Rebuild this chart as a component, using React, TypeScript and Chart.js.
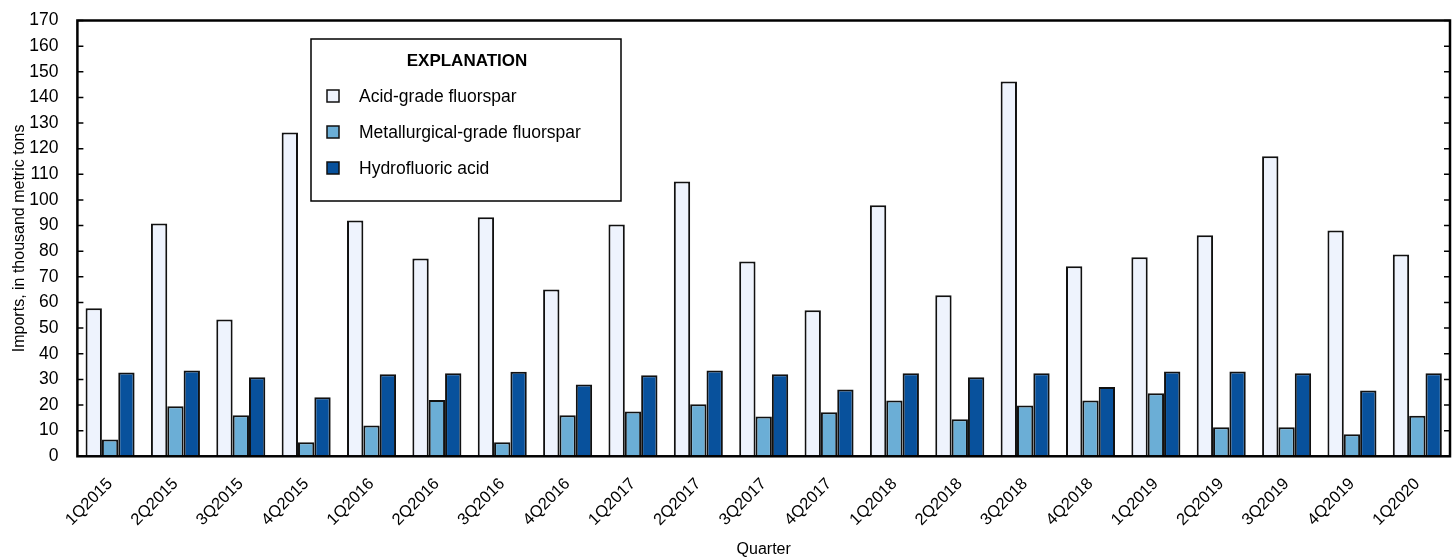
import React, { useEffect, useRef } from "react";
import { Chart, registerables } from "chart.js";

Chart.register(...registerables);

const categories = [
  "1Q2015", "2Q2015", "3Q2015", "4Q2015",
  "1Q2016", "2Q2016", "3Q2016", "4Q2016",
  "1Q2017", "2Q2017", "3Q2017", "4Q2017",
  "1Q2018", "2Q2018", "3Q2018", "4Q2018",
  "1Q2019", "2Q2019", "3Q2019", "4Q2019",
  "1Q2020",
];

const acidGrade = [57.7, 90.8, 53.4, 126.3, 92.0, 77.2, 93.2, 65.1, 90.4, 107.2, 76.0, 57.0, 97.9, 62.8, 146.2, 74.1, 77.6, 86.2, 117.0, 88.1, 78.7];
const metallurgicalGrade = [6.5, 19.5, 16.0, 5.5, 12.0, 22.0, 5.5, 16.0, 17.5, 20.3, 15.5, 17.2, 21.8, 14.4, 19.8, 21.8, 24.6, 11.3, 11.3, 8.6, 15.8];
const hydrofluoricAcid = [32.7, 33.5, 30.8, 23.0, 32.0, 32.4, 33.0, 28.0, 31.6, 33.5, 32.0, 26.1, 32.4, 30.8, 32.4, 27.0, 33.1, 33.1, 32.4, 25.7, 32.4];

const seriesLabels = ["Acid-grade fluorspar", "Metallurgical-grade fluorspar", "Hydrofluoric acid"];
const seriesColors = ["#eef3fd", "#6baed6", "#08519c"];
const legendTitle = "EXPLANATION";
const yTitle = "Imports, in thousand metric tons";
const xTitle = "Quarter";

const FONT = '"Liberation Sans", Arial, sans-serif';
const SHIFT = 9; // canvas drawn slightly above the page top

const framePlugin = {
  id: "frameAndTicks",
  afterDatasetsDraw(chart: any) {
    const { ctx, chartArea } = chart;
    const yScale = chart.scales.y;
    ctx.save();
    ctx.strokeStyle = "#000";
    ctx.lineWidth = 1.5;
    ctx.beginPath();
    yScale.ticks.forEach((t: any) => {
      const py = yScale.getPixelForValue(t.value);
      ctx.moveTo(chartArea.left, py);
      ctx.lineTo(chartArea.left + 6, py);
      ctx.moveTo(chartArea.right, py);
      ctx.lineTo(chartArea.right - 6, py);
    });
    ctx.stroke();
    ctx.lineWidth = 2.5;
    ctx.strokeRect(chartArea.left, chartArea.top, chartArea.right - chartArea.left, chartArea.bottom - chartArea.top);

    // Legend box
    const bx = 311, by = 39 + SHIFT, bw = 310, bh = 162;
    ctx.fillStyle = "#fff";
    ctx.fillRect(bx, by, bw, bh);
    ctx.lineWidth = 1.5;
    ctx.strokeRect(bx, by, bw, bh);
    ctx.fillStyle = "#000";
    ctx.font = `bold 17px ${FONT}`;
    ctx.textAlign = "center";
    ctx.textBaseline = "middle";
    ctx.fillText(legendTitle, bx + bw / 2 + 1, 61 + SHIFT);
    ctx.textAlign = "left";
    ctx.font = `17.5px ${FONT}`;
    chart.data.datasets.forEach((ds: any, i: number) => {
      const cy = 96 + SHIFT + i * 36;
      ctx.fillStyle = ds.backgroundColor;
      ctx.fillRect(327, cy - 6, 12, 12);
      ctx.strokeStyle = "#111";
      ctx.lineWidth = 1.5;
      ctx.strokeRect(327, cy - 6, 12, 12);
      ctx.fillStyle = "#000";
      ctx.fillText(ds.label, 359, cy + 1);
    });
    ctx.restore();
  },
};

export default function App() {
  const canvasRef = useRef<HTMLCanvasElement | null>(null);

  useEffect(() => {
    document.body.style.margin = "0";
    const canvas = canvasRef.current;
    if (!canvas) return;
    const chart = new Chart(canvas, {
      type: "bar",
      data: {
        labels: categories,
        datasets: [acidGrade, metallurgicalGrade, hydrofluoricAcid].map((d, i) => ({
          label: seriesLabels[i],
          data: d,
          backgroundColor: seriesColors[i],
          borderColor: "#111",
          borderWidth: 2,
          borderSkipped: "bottom" as const,
          categoryPercentage: 0.75,
          barPercentage: 1.0,
        })),
      },
      options: {
        animation: false,
        responsive: false,
        maintainAspectRatio: false,
        layout: { padding: { top: 0, right: 6, left: 10, bottom: 0 } },
        plugins: {
          legend: { display: false },
          tooltip: { enabled: false },
        },
        scales: {
          x: {
            grid: { display: false, drawTicks: false },
            border: { display: false },
            ticks: {
              color: "#000",
              font: { family: FONT, size: 16.5 },
              maxRotation: 45,
              minRotation: 45,
              padding: 18,
              autoSkip: false,
            },
            title: {
              display: true,
              text: xTitle,
              color: "#000",
              font: { family: FONT, size: 16 },
              padding: { top: -8, bottom: 0 },
            },
          },
          y: {
            min: 0,
            max: 170,
            grid: { display: false, drawTicks: false },
            border: { display: false },
            ticks: {
              stepSize: 10,
              autoSkip: false,
              color: "#000",
              font: { family: FONT, size: 17.5 },
              padding: 19,
            },
            title: {
              display: true,
              text: yTitle,
              color: "#000",
              font: { family: FONT, size: 16 },
              padding: { top: 0, bottom: -19 },
            },
          },
        },
      },
      plugins: [framePlugin],
    });
    return () => chart.destroy();
  }, []);

  return (
    <div style={{ position: "absolute", left: 0, top: 0, width: 1456, height: 559, overflow: "hidden" }}>
      <canvas
        ref={canvasRef}
        width={1456}
        height={559 + SHIFT}
        style={{ position: "absolute", left: 0, top: -SHIFT, width: 1456, height: 559 + SHIFT }}
      />
    </div>
  );
}
